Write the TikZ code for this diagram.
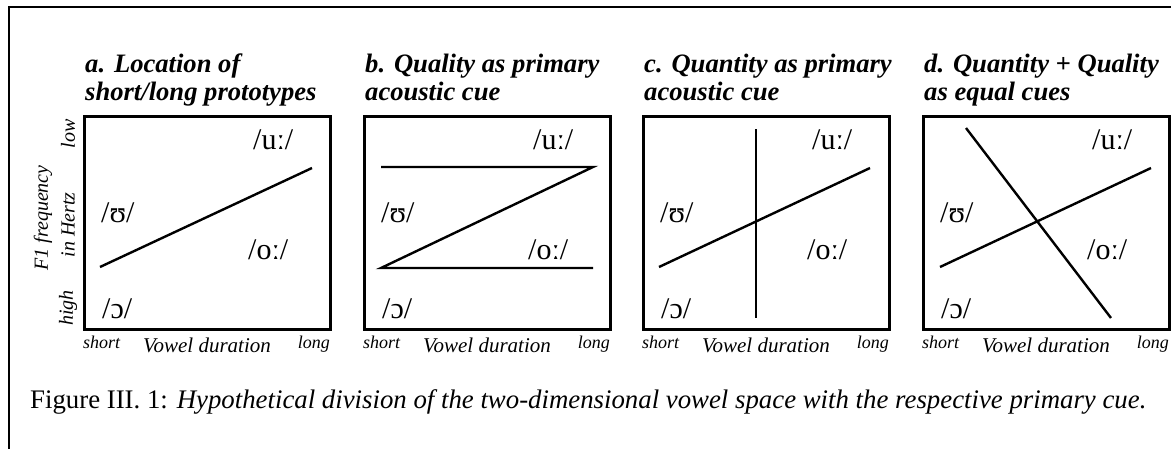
\documentclass[tikz,border=0pt]{standalone}
\usepackage{fontspec}
\setmainfont{Liberation Serif}
\tikzset{
  frameline/.style={line width=2pt},
  panelbox/.style={draw, line width=2.6pt, minimum width=246pt, minimum height=213pt, inner sep=0pt, anchor=north west},
  divline/.style={line width=2.4pt},
  vowel/.style={anchor=west, inner sep=0pt, font=\fontsize{30}{32}\selectfont},
  ttl/.style={anchor=base west, inner sep=0pt, font=\fontsize{26.6}{28}\selectfont\bfseries\itshape},
  axislab/.style={inner sep=0pt, anchor=base, font=\fontsize{18}{20}\selectfont\itshape},
  durlab/.style={inner sep=0pt, anchor=base, font=\fontsize{21}{22}\selectfont\itshape},
  ylab/.style={inner sep=0pt, rotate=90, font=\fontsize{20}{22}\selectfont\itshape},
  caption/.style={inner sep=0pt, anchor=base west, font=\fontsize{26.8}{28}\selectfont},
}
\newcommand\vpanel[2]{%
  \begin{scope}[xshift=#2]
    \node[panelbox] (#1box) at (0,115) {};
    \node[vowel] (#1uu) at (170,140) {/uː/};
    \node[vowel] (#1oo) at (165,250) {/oː/};
    \node[vowel] (#1u) at (18,213) {/ʊ/};
    \node[vowel] (#1o) at (19,309) {/ɔ/};
    \node[axislab, anchor=base west] (#1short) at (0,348) {short};
    \node[durlab] (#1dur) at (124,352) {Vowel duration};
    \node[axislab, anchor=base east] (#1long) at (247,348) {long};
  \end{scope}}
\begin{document}
\begin{tikzpicture}[x=1pt,y=-1pt]
\useasboundingbox (0,0) rectangle (1171,448);
\draw[frameline] (1175,7) -- (9,7) -- (9,452);

% panel a
\vpanel{a}{83}
\node[ttl] (ta1) at (85,72) {a. Location of};
\node[ttl] (ta2) at (85,100) {short/long prototypes};
\coordinate (a1) at (100,267);
\coordinate (a2) at (312,168);
\draw[divline] (a1) -- (a2);
\node[ylab] (ylow) at (68,134) {low};
\node[ylab] (yhigh) at (68,308) {high};
\node[ylab] (yf1) at (43,218) {F1 frequency};
\node[ylab] (yhz) at (68,225) {in Hertz};

% panel b
\vpanel{b}{363}
\node[ttl] (tb1) at (365,72) {b. Quality as primary};
\node[ttl] (tb2) at (365,100) {acoustic cue};
\coordinate (b1) at (381,167);
\coordinate (b2) at (593,167);
\coordinate (b3) at (381,268);
\coordinate (b4) at (593,268);
\draw[divline] (b1) -- (b2) -- (b3) -- (b4);

% panel c
\vpanel{c}{642}
\node[ttl] (tc1) at (644,72) {c. Quantity as primary};
\node[ttl] (tc2) at (644,100) {acoustic cue};
\coordinate (c1) at (659,267);
\coordinate (c2) at (870,168);
\coordinate (c3) at (756,129);
\coordinate (c4) at (756,318);
\draw[divline] (c1) -- (c2);
\draw[divline] (c3) -- (c4);

% panel d
\vpanel{d}{922}
\node[ttl] (td1) at (924,72) {d. Quantity + Quality};
\node[ttl] (td2) at (924,100) {as equal cues};
\coordinate (d1) at (940,267);
\coordinate (d2) at (1151,168);
\coordinate (d3) at (966,128);
\coordinate (d4) at (1111,318);
\draw[divline] (d1) -- (d2);
\draw[divline] (d3) -- (d4);

\node[caption] (cap) at (30,408) {Figure III. 1: \textit{Hypothetical division of the two-dimensional vowel space with the respective primary cue.}};
\end{tikzpicture}
\end{document}
